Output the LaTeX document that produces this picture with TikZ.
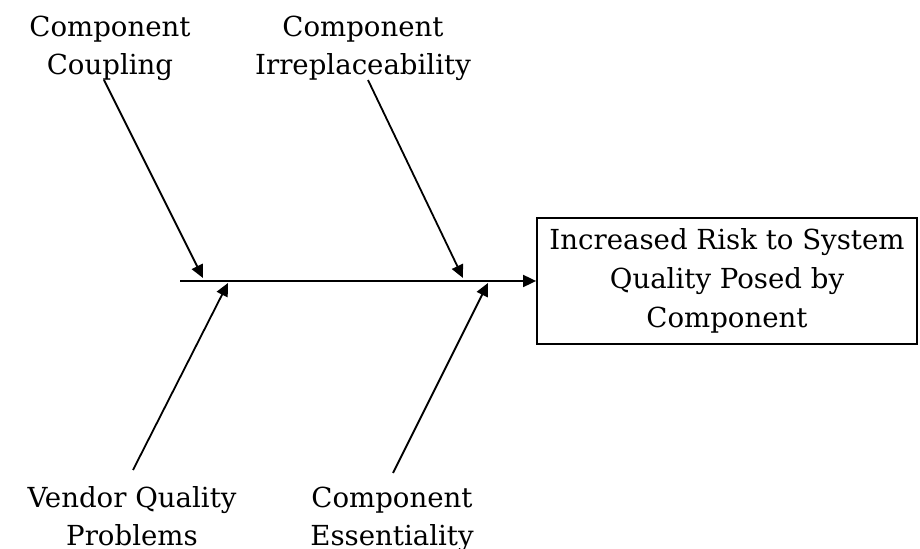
\documentclass[tikz,border=0pt]{standalone}
\usepackage{fontspec}
\setmainfont{DejaVu Serif}
\usetikzlibrary{arrows.meta}
\begin{document}
\begin{tikzpicture}[x=0.5pt, y=-0.5pt, >={Triangle[length=6.5pt,width=6pt]},
		line width=0.9pt,
		cause/.style={align=center, inner sep=0pt, anchor=north, font=\fontsize{13.8}{19}\selectfont},
		effect/.style={draw, align=center, inner sep=0pt, minimum width=190pt, minimum height=63pt, font=\fontsize{13.8}{19.5}\selectfont}]
		\useasboundingbox (0,0) rectangle (920,549);
		% effect box and spine
		\node[effect] (risk) at (727,281) {Increased Risk to System\\Quality Posed by\\Component};
		\coordinate (tail) at (180,281);
		\draw[->] (tail) -- (risk.west);
		% causes
		\node[cause] (coupling) at (110,15) {Component\\Coupling};
		\node[cause] (irrepl) at (363,15) {Component\\Irreplaceability};
		\node[cause] (vendor) at (132,486) {Vendor Quality\\Problems};
		\node[cause] (essent) at (392,486) {Component\\Essentiality};
		% where the bones meet the spine
		\coordinate (b1) at (104,80);
		\coordinate (b2) at (368,80);
		\coordinate (b3) at (133,470);
		\coordinate (b4) at (393,473);
		\coordinate (j1) at (203,278);
		\coordinate (j2) at (463,278);
		\coordinate (j3) at (228,283);
		\coordinate (j4) at (488,283);
		\draw[->] (b1) -- (j1);
		\draw[->] (b2) -- (j2);
		\draw[->] (b3) -- (j3);
		\draw[->] (b4) -- (j4);
		\end{tikzpicture}
\end{document}
